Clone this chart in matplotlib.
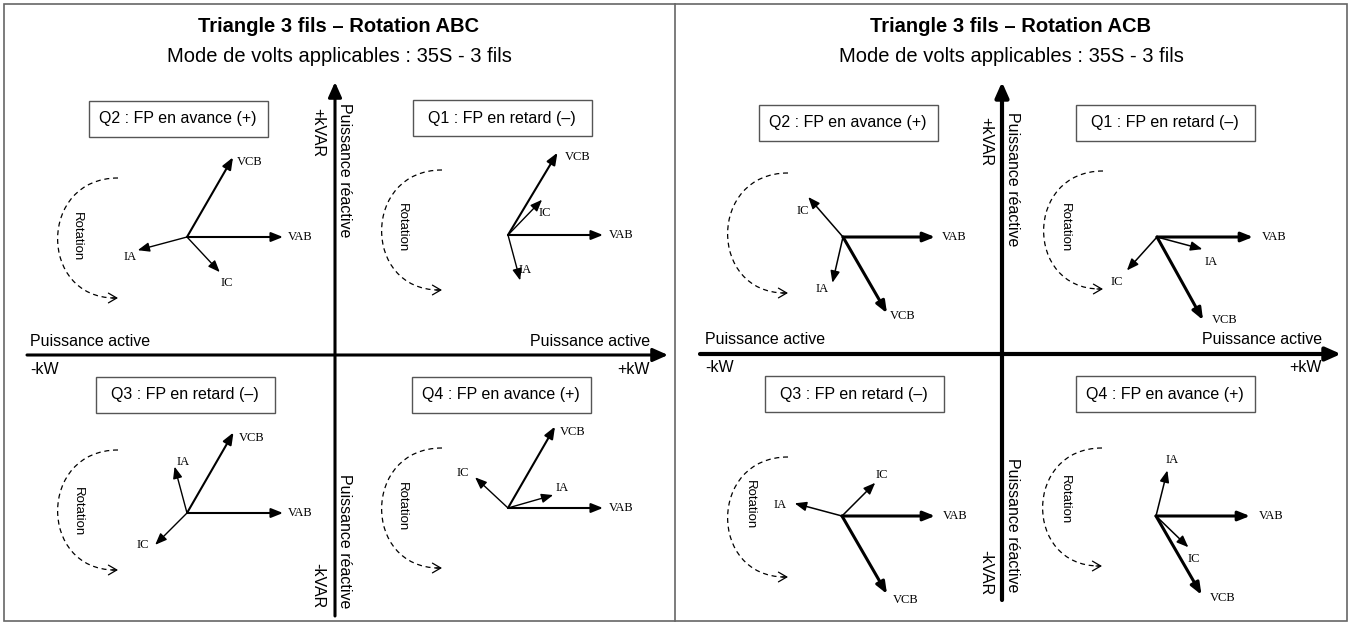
import numpy as np
import matplotlib
matplotlib.use("Agg")
import matplotlib.pyplot as plt
from matplotlib.patches import Rectangle, PathPatch
from matplotlib.path import Path

SANS = "Liberation Sans"
SERIF = "Liberation Serif"

# phasor names, same order in every quadrant
names = ["VAB", "VCB", "IA", "IC"]

# phasor angles (deg, counter-clockwise from +kW) and lengths
abc_q1_ang = [0, 59, -75, 46]
abc_q1_len = [95, 96, 47, 49]
abc_q2_ang = [0, 60, 195, -47]
abc_q2_len = [96, 92, 51, 48]
abc_q3_ang = [0, 60, 105, 225]
abc_q3_len = [96, 93, 48, 45]
abc_q4_ang = [0, 60, 16, 137]
abc_q4_len = [95, 94, 47, 45]

acb_q1_ang = [0, -61, -15, 228]
acb_q1_len = [96, 95, 47, 45]
acb_q2_ang = [0, -60, 257, 131]
acb_q2_len = [92, 88, 47, 53]
acb_q3_ang = [0, -60, 165, 45]
acb_q3_len = [93, 90, 49, 47]
acb_q4_ang = [0, -60, 76, -44]
acb_q4_len = [94, 91, 47, 45]

quad_titles = {
    "Q1": "Q1 : FP en retard (\u2013)",
    "Q2": "Q2 : FP en avance (+)",
    "Q3": "Q3 : FP en retard (\u2013)",
    "Q4": "Q4 : FP en avance (+)",
}
panel_titles = ["Triangle 3 fils \u2013 Rotation ABC", "Triangle 3 fils \u2013 Rotation ACB"]
subtitle = "Mode de volts applicables : 35S - 3 fils"

# layout (pixels), one dict per quadrant
left_quads = [
    dict(q="Q2", ang=abc_q2_ang, L=abc_q2_len, org=(187, 237), box=(178, 119),
         arc=(118, 238, 60), rot=(77, 237),
         offs=[(17, 0), (17, 5), (-8, 7), (7, 11)]),
    dict(q="Q1", ang=abc_q1_ang, L=abc_q1_len, org=(508, 235), box=(502, 118),
         arc=(442, 230, 60), rot=(402, 228),
         offs=[(18, 0), (20, 4), (5, -10), (3, 13)]),
    dict(q="Q3", ang=abc_q3_ang, L=abc_q3_len, org=(187, 513), box=(185, 395),
         arc=(118, 510, 60), rot=(78, 512),
         offs=[(17, 0), (18, 6), (9, -5), (-12, 0)]),
    dict(q="Q4", ang=abc_q4_ang, L=abc_q4_len, org=(508, 508), box=(501, 395),
         arc=(442, 508, 60), rot=(402, 507),
         offs=[(18, 0), (18, 5), (9, -7), (-12, -4)]),
]
right_quads = [
    dict(q="Q2", ang=acb_q2_ang, L=acb_q2_len, org=(843, 237), box=(848, 123),
         arc=(788, 233, 60), rot=None,
         offs=[(19, 0), (16, 3), (-10, 6), (-5, 14)]),
    dict(q="Q1", ang=acb_q1_ang, L=acb_q1_len, org=(1157, 237), box=(1165, 123),
         arc=(1103, 230, 59), rot=(1065, 228),
         offs=[(21, 0), (22, 0), (9, 13), (-10, 12)]),
    dict(q="Q3", ang=acb_q3_ang, L=acb_q3_len, org=(842, 516), box=(854, 394),
         arc=(788, 517, 60), rot=(750, 505),
         offs=[(20, 0), (19, 6), (-15, 2), (7, -8)]),
    dict(q="Q4", ang=acb_q4_ang, L=acb_q4_len, org=(1156, 516), box=(1165, 394),
         arc=(1102, 507, 59), rot=(1065, 500),
         offs=[(21, 0), (21, 3), (5, -10), (5, 12)]),
]


def draw_quadrant(ax, d, lw_v, lw_i):
    ox, oy = d["org"]
    for name, a, L, (dx, dy) in zip(names, d["ang"], d["L"], d["offs"]):
        t = np.radians(a)
        tip = (ox + L * np.cos(t), oy - L * np.sin(t))
        lw = lw_v if name.startswith("V") else lw_i
        ax.annotate("", xy=tip, xytext=(ox, oy),
                    arrowprops=dict(arrowstyle="-|>,head_length=0.7,head_width=0.28",
                                    lw=lw, color="black", shrinkA=0, shrinkB=0,
                                    mutation_scale=10))
        ax.text(tip[0] + dx, tip[1] + dy, name, family=SERIF, fontsize=9,
                ha="center", va="center")

    # quadrant box
    bx, by = d["box"]
    w, h = 179, 36
    ax.add_patch(Rectangle((bx - w / 2, by - h / 2), w, h, fill=False,
                           ec="#555555", lw=1))
    ax.text(bx, by, quad_titles[d["q"]], family=SANS, fontsize=11.5,
            ha="center", va="center")

    # dashed rotation arc
    cx, cy, r = d["arc"]
    k = 4 / 3
    verts = [(cx, cy - r), (cx - k * r, cy - r), (cx - k * r, cy + r), (cx - 3, cy + r)]
    codes = [Path.MOVETO, Path.CURVE4, Path.CURVE4, Path.CURVE4]
    ax.add_patch(PathPatch(Path(verts, codes), fill=False, ec="black", lw=0.9,
                           ls=(0, (4, 3))))
    ax.annotate("", xy=(cx, cy + r), xytext=(cx - 6, cy + r),
                arrowprops=dict(arrowstyle="->,head_length=0.6,head_width=0.35",
                                lw=0.9, color="black", shrinkA=0, shrinkB=0,
                                mutation_scale=10))
    if d["rot"] is not None:
        ax.text(d["rot"][0], d["rot"][1], "Rotation", family=SANS, fontsize=9.5,
                rotation=-90, ha="center", va="center")


fig = plt.figure(figsize=(13.51, 6.24), dpi=100)
ax = fig.add_axes([0, 0, 1, 1])
ax.set_xlim(0, 1351)
ax.set_ylim(624, 0)
ax.axis("off")

# frames
ax.add_patch(Rectangle((4, 4), 1343, 617, fill=False, ec="#666666", lw=1.2))
ax.plot([675, 675], [4, 621], color="#666666", lw=1.2)

# axes of each panel: (x0, x1, y of kW axis, x of kVAR axis, y top, y bottom, lw)
panels = [
    dict(x0=27, x1=668, yh=355, xv=335, yt=82, yb=616, lw=2.2, cx=339,
         pa_l=30, pa_r=650, kvar_x=318, pr_x=344, pr_top=103, pr_bot=608,
         kv_bot=608, quads=left_quads, lw_v=1.5, lw_i=1.0),
    dict(x0=700, x1=1341, yh=354, xv=1002, yt=82, yb=600, lw=3.0, cx=1011,
         pa_l=705, pa_r=1322, kvar_x=986, pr_x=1012, pr_top=112, pr_bot=592,
         kv_bot=595, quads=right_quads, lw_v=2.2, lw_i=1.1),
]

for p, title in zip(panels, panel_titles):
    ax.text(p["cx"], 27, title, family=SANS, fontsize=14.5, fontweight="bold",
            ha="center", va="center")
    ax.text(p["cx"], 57, subtitle, family=SANS, fontsize=14.5,
            ha="center", va="center")

    head = "-|>,head_length=0.9,head_width=0.4"
    ax.annotate("", xy=(p["x1"], p["yh"]), xytext=(p["x0"], p["yh"]),
                arrowprops=dict(arrowstyle=head, lw=p["lw"], color="black",
                                shrinkA=0, shrinkB=0, mutation_scale=10))
    ax.annotate("", xy=(p["xv"], p["yt"]), xytext=(p["xv"], p["yb"]),
                arrowprops=dict(arrowstyle=head, lw=p["lw"], color="black",
                                shrinkA=0, shrinkB=0, mutation_scale=10))

    ax.text(p["pa_l"], p["yh"] - 14, "Puissance active", family=SANS, fontsize=11.5,
            ha="left", va="center")
    ax.text(p["pa_r"], p["yh"] - 14, "Puissance active", family=SANS, fontsize=11.5,
            ha="right", va="center")
    ax.text(p["pa_l"], p["yh"] + 14, "-kW", family=SANS, fontsize=11.5,
            ha="left", va="center")
    ax.text(p["pa_r"], p["yh"] + 14, "+kW", family=SANS, fontsize=11.5,
            ha="right", va="center")

    ax.text(p["kvar_x"], p["pr_top"] + 5, "+kVAR", family=SANS, fontsize=11.5,
            rotation=-90, ha="center", va="top")
    ax.text(p["pr_x"], p["pr_top"], "Puissance r\u00e9active", family=SANS,
            fontsize=11.5, rotation=-90, ha="center", va="top")
    ax.text(p["pr_x"], p["pr_bot"], "Puissance r\u00e9active", family=SANS,
            fontsize=11.5, rotation=-90, ha="center", va="bottom")
    ax.text(p["kvar_x"], p["kv_bot"], "-kVAR", family=SANS, fontsize=11.5,
            rotation=-90, ha="center", va="bottom")

    for d in p["quads"]:
        draw_quadrant(ax, d, p["lw_v"], p["lw_i"])

fig.savefig("out.png", dpi=100)
